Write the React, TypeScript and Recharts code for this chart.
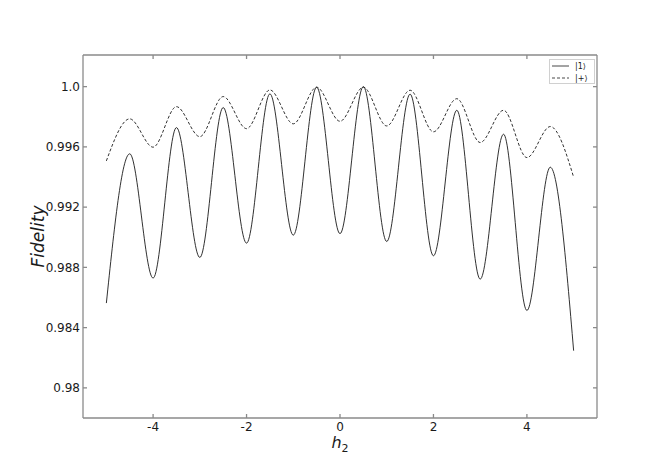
import { LineChart, Line, XAxis, YAxis } from "recharts";

const hValues = [-5, -4.5, -4, -3.5, -3, -2.5, -2, -1.5, -1, -0.5, 0, 0.5, 1, 1.5, 2, 2.5, 3, 3.5, 4, 4.5, 5];
const fidelityOne = [
  0.98563, 0.99554, 0.98729, 0.99728, 0.98866, 0.99861, 0.98961, 0.99952, 0.99014, 0.99996, 0.99024,
  1.0, 0.98972, 0.9995, 0.98877, 0.99843, 0.98722, 0.99684, 0.98514, 0.99465, 0.98247,
];
const fidelityPlus = [
  0.99507, 0.99786, 0.99598, 0.99867, 0.99668, 0.99934, 0.99721, 0.99978, 0.99753, 0.99996, 0.9977,
  0.99996, 0.99739, 0.99976, 0.997, 0.9992, 0.99629, 0.99843, 0.99529, 0.99735, 0.99399,
];
const xTicks = [-4, -2, 0, 2, 4];
const yTicks = [0.98, 0.984, 0.988, 0.992, 0.996, 1.0];
const seriesNames = ["|1⟩", "|+⟩"];

const data = hValues.map((h, i) => ({ h, one: fidelityOne[i], plus: fidelityPlus[i] }));

const FONT = "DejaVu Sans, sans-serif";
const SPINE = "#8a8a8a";
const INK = "#1a1a1a";
const Y_DOMAIN = [0.978, 1.0021];
const X_DOMAIN = [-5.5, 5.5];

const fmtY = (v: number) => (v === 1 ? "1.0" : String(Number(v.toFixed(3))));

function XLabel({ viewBox }: any) {
  const cx = viewBox.x + viewBox.width / 2;
  return (
    <text x={cx} y={viewBox.y + 30} textAnchor="middle" fontFamily={FONT} fill={INK}>
      <tspan fontStyle="italic" fontSize={16}>h</tspan>
      <tspan fontSize={11} dy={4}>2</tspan>
    </text>
  );
}

function YLabel({ viewBox }: any) {
  const cx = viewBox.x + 38;
  const cy = viewBox.y + viewBox.height / 2;
  return (
    <text
      x={cx}
      y={cy}
      transform={`rotate(-90 ${cx} ${cy})`}
      textAnchor="middle"
      dominantBaseline="central"
      fontFamily={FONT}
      fontStyle="italic"
      fontSize={17}
      fill={INK}
    >
      Fidelity
    </text>
  );
}

const NoTick = () => <g />;

export default function App() {
  return (
    <div style={{ position: "absolute", left: 0, top: 0, width: 664, height: 470, background: "#fff" }}>
      <LineChart width={664} height={470} data={data} margin={{ top: 54, right: 66, bottom: 0, left: 0 }}>
        <XAxis
          dataKey="h"
          type="number"
          domain={X_DOMAIN}
          allowDataOverflow
          ticks={xTicks}
          height={52}
          tickSize={-4}
          tickMargin={8}
          stroke={SPINE}
          strokeWidth={1.3}
          tick={{ fill: INK, fontSize: 12, fontFamily: FONT }}
          tickFormatter={(v: number) => String(v)}
          label={<XLabel />}
        />
        <XAxis
          xAxisId="top"
          orientation="top"
          dataKey="h"
          type="number"
          domain={X_DOMAIN}
          allowDataOverflow
          ticks={xTicks}
          height={1}
          tickSize={-4}
          stroke={SPINE}
          strokeWidth={1.3}
          tick={NoTick}
        />
        <YAxis
          type="number"
          domain={Y_DOMAIN}
          allowDataOverflow
          ticks={yTicks}
          width={83}
          tickSize={-4}
          tickMargin={7}
          stroke={SPINE}
          strokeWidth={1.3}
          tick={{ fill: INK, fontSize: 12, fontFamily: FONT }}
          tickFormatter={fmtY}
          label={<YLabel />}
        />
        <YAxis
          yAxisId="right"
          orientation="right"
          type="number"
          domain={Y_DOMAIN}
          allowDataOverflow
          ticks={yTicks}
          width={1}
          tickSize={-4}
          stroke={SPINE}
          strokeWidth={1.3}
          tick={NoTick}
        />
        <Line
          type="monotone"
          dataKey="one"
          name={seriesNames[0]}
          stroke={INK}
          strokeWidth={0.9}
          dot={false}
          isAnimationActive={false}
        />
        <Line
          type="monotone"
          dataKey="plus"
          name={seriesNames[1]}
          stroke={INK}
          strokeWidth={0.9}
          strokeDasharray="3 2"
          dot={false}
          isAnimationActive={false}
        />
      </LineChart>
      <div
        style={{
          position: "absolute",
          left: 549,
          top: 59,
          width: 46,
          height: 25,
          border: "1px solid #d0d0d0",
          background: "#fff",
          fontFamily: FONT,
          fontSize: 8,
          color: INK,
          boxSizing: "border-box",
        }}
      >
        {seriesNames.map((n, i) => (
          <div key={n} style={{ position: "absolute", left: 2, top: 1 + i * 12, height: 10, display: "flex", alignItems: "center" }}>
            <svg width={17} height={4}>
              <line x1={0} y1={2} x2={17} y2={2} stroke={INK} strokeWidth={0.8} strokeDasharray={i === 1 ? "3 2" : undefined} />
            </svg>
            <span style={{ marginLeft: 6 }}>{n}</span>
          </div>
        ))}
      </div>
    </div>
  );
}
